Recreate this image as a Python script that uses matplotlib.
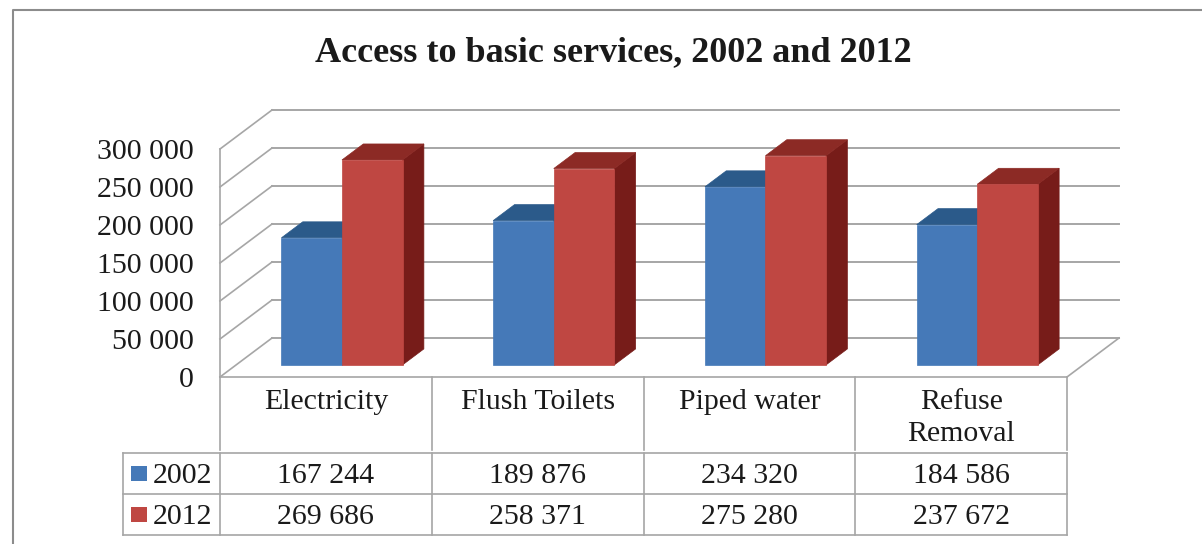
import matplotlib
matplotlib.use("Agg")
import matplotlib.pyplot as plt
from matplotlib.patches import Polygon, Rectangle
from matplotlib.lines import Line2D
from matplotlib.transforms import IdentityTransform
from matplotlib.ticker import FuncFormatter

# data
categories = ["Electricity", "Flush Toilets", "Piped water", "Refuse\nRemoval"]
years = ["2002", "2012"]
values_2002 = [167244, 189876, 234320, 184586]
values_2012 = [269686, 258371, 275280, 237672]
y_ticks = [0, 50000, 100000, 150000, 200000, 250000, 300000]

plt.rcParams['font.family'] = ['Liberation Serif', 'DejaVu Serif']

W, H = 1202, 544
fig = plt.figure(figsize=(W / 100, H / 100), dpi=100)

def fx(px):
    return px / W

def fy(py):
    return 1 - py / H

def pix(px, py):
    # figure pixel (top-left origin) -> display coords
    return (px, H - py)

GRID = "#a6a6a6"
TEXT = "#1a1a1a"
FS = 21.5

# front plane of the box: 0 at y=377px, 300 000 at y=149px
ax = fig.add_axes([fx(220), fy(377), fx(1067) - fx(220), fy(149) - fy(377)])
ax.set_xlim(-0.5, 3.5)
ax.set_ylim(0, 300000)
ax.patch.set_visible(False)
for s in ["top", "right", "bottom"]:
    ax.spines[s].set_visible(False)
ax.spines["left"].set_color(GRID)
ax.spines["left"].set_linewidth(1.2)
ax.set_xticks([])
ax.set_yticks(y_ticks)
ax.yaxis.set_major_formatter(FuncFormatter(lambda v, p: f"{int(v):,}".replace(",", " ")))
ax.tick_params(axis="y", length=0, pad=19, labelsize=FS, labelcolor=TEXT)

# oblique depth of the box in pixels
DEPTH_X, DEPTH_Y = 52, 39

def disp(x, y, t):
    # data point pushed back by fraction t of the box depth
    X, Y = ax.transData.transform((x, y))
    return (X + t * DEPTH_X, Y + t * DEPTH_Y)

def seg(p, q, color=GRID, lw=1.2, z=1):
    ax.add_line(Line2D([p[0], q[0]], [p[1], q[1]], transform=IdentityTransform(),
                       color=color, lw=lw, clip_on=False, zorder=z))

def poly(pts, color, z):
    ax.add_patch(Polygon(pts, closed=True, transform=IdentityTransform(),
                         facecolor=color, edgecolor=color, lw=0.5, clip_on=False, zorder=z))

# back wall grid and side wall
for t in y_ticks:
    seg(disp(-0.5, t, 1), disp(3.5, t, 1), lw=1.4)
    seg(disp(-0.5, t, 0), disp(-0.5, t, 1))
seg(disp(3.5, 0, 0), disp(3.5, 0, 1))
seg(disp(-0.5, 0, 0), disp(3.5, 0, 0))

# bars
BAR_W = 0.286
T0, T1 = 0.31, 0.72
series = [
    (values_2002, -BAR_W, ("#4579b8", "#2b5a8a", "#23497a")),
    (values_2012, 0.0, ("#bf4742", "#8c2a25", "#771c19")),
]
for i in range(len(categories)):
    for vals, off, (front, top, side) in series:
        v = vals[i]
        x0, x1 = i + off, i + off + BAR_W
        z = 3
        poly([disp(x1, 0, T0), disp(x1, v, T0), disp(x1, v, T1), disp(x1, 0, T1)], side, z)
        poly([disp(x0, v, T0), disp(x1, v, T0), disp(x1, v, T1), disp(x0, v, T1)], top, z)
        poly([disp(x0, 0, T0), disp(x1, 0, T0), disp(x1, v, T0), disp(x0, v, T0)], front, z + 0.1)

# data table under the plot
bounds = [ax.transData.transform((i - 0.5, 0))[0] for i in range(len(categories) + 1)]
H_TOP, H_BOT = 377, 450
R0, R1, R2 = 453, 494, 535
LEFT = 123

def fline(x0, y0, x1, y1):
    fig.add_artist(Line2D([x0, x1], [H - y0, H - y1], transform=IdentityTransform(),
                          color=GRID, lw=1.2))

for b in bounds:
    fline(b, H_TOP, b, H_BOT)
    fline(b, R0, b, R2)
fline(LEFT, R0, LEFT, R2)
for r in (R0, R1, R2):
    fline(LEFT, r, bounds[-1], r)

for i, cat in enumerate(categories):
    cx = (bounds[i] + bounds[i + 1]) / 2
    fig.text(cx / W, fy(389), cat, ha="center", va="top", fontsize=FS, color=TEXT,
             linespacing=1.28, multialignment="center")

swatch_colors = ["#4579b8", "#bf4742"]
for r, (yr, vals, c) in enumerate(zip(years, [values_2002, values_2012], swatch_colors)):
    ytop = R0 if r == 0 else R1
    ymid = ytop + 20.5
    fig.add_artist(Rectangle(pix(131, ymid + 7.5), 16, 15, transform=IdentityTransform(),
                             facecolor=c, edgecolor="none"))
    fig.text(fx(153), fy(ymid + 2.5), yr, ha="left", va="center", fontsize=FS, color=TEXT)
    for i, v in enumerate(vals):
        cx = (bounds[i] + bounds[i + 1]) / 2
        fig.text(cx / W, fy(ymid + 2.5), f"{v:,}".replace(",", " "), ha="center",
                 va="center", fontsize=FS, color=TEXT)

# title and outer chart frame
fig.text(fx(613), fy(53), "Access to basic services, 2002 and 2012", ha="center",
         va="center", fontsize=26, fontweight="bold", color=TEXT)
fig.add_artist(Line2D([13, 13, W], [0, H - 10, H - 10], transform=IdentityTransform(),
                      color="#8c8c8c", lw=1.5))

fig.savefig("out.png", dpi=100)
